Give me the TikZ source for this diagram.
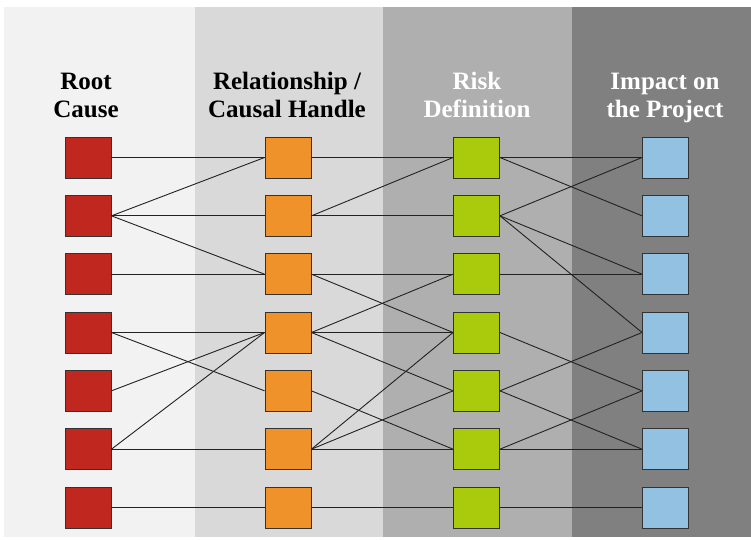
\documentclass[tikz,border=0pt]{standalone}
\usepackage{fontspec}
\setmainfont{Liberation Serif}
\definecolor{bandA}{HTML}{F1F2F1}
\definecolor{bandB}{HTML}{D9D9D9}
\definecolor{bandC}{HTML}{AFAFAF}
\definecolor{bandD}{HTML}{808080}
\definecolor{causeRed}{HTML}{C0271F}
\definecolor{handleOrange}{HTML}{F0922A}
\definecolor{riskGreen}{HTML}{A9CB0C}
\definecolor{impactBlue}{HTML}{93C1E1}
\definecolor{edgeInk}{HTML}{222222}
\begin{document}
\begin{tikzpicture}[x=1pt,y=-1pt,
  cell/.style={draw=black!80,line width=0.9pt,minimum width=46pt,minimum height=41pt,inner sep=0pt},
  link/.style={draw=edgeInk,line width=0.9pt},
  head/.style={font=\fontsize{25}{28}\selectfont\bfseries,anchor=base,inner sep=0pt}]
\useasboundingbox (0,0) rectangle (751,539);
\fill[white] (0,0) rectangle (751,539);
% column bands
\fill[bandA] (4,7) rectangle (195,537);
\fill[bandB] (195,7) rectangle (383,537);
\fill[bandC] (383,7) rectangle (572,537);
\fill[bandD] (572,7) rectangle (751,537);
% headings
\node[head] (hA1) at (86,89) {Root};
\node[head] (hA2) at (86,117) {Cause};
\node[head] (hB1) at (287,89) {Relationship /};
\node[head] (hB2) at (287,117) {Causal Handle};
\node[head,text=white] (hC1) at (477,89) {Risk};
\node[head,text=white] (hC2) at (477,117) {Definition};
\node[head,text=white] (hD1) at (665,89) {Impact on};
\node[head,text=white] (hD2) at (665,117) {the Project};
% boxes
\foreach \c/\x/\col in {A/88/causeRed,B/288/handleOrange,C/476.5/riskGreen,D/665.5/impactBlue}
  \foreach \r in {1,...,7}
    \node[cell,fill=\col] (\c\r) at (\x,{157.5+(\r-1)*58.333}) {};
% connectors
\foreach \a/\b in {A1/B1,A2/B1,A2/B2,A2/B3,A3/B3,A4/B4,A4/B5,A5/B4,A6/B4,A6/B6,A7/B7,
  B1/C1,B2/C1,B2/C2,B3/C3,B3/C4,B4/C3,B4/C4,B4/C5,B5/C6,B6/C4,B6/C5,B6/C6,B7/C7,
  C1/D1,C1/D2,C2/D1,C2/D3,C2/D4,C3/D3,C4/D5,C5/D4,C5/D6,C6/D5,C6/D6,C7/D7}
  \draw[link] (\a.east) -- (\b.west);
\end{tikzpicture}
\end{document}
